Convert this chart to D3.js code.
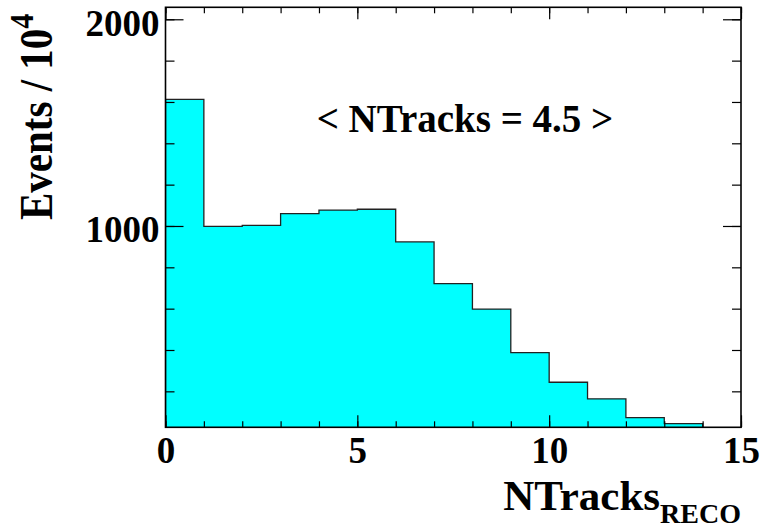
<!DOCTYPE html>
<html>
<head>
<meta charset="utf-8">
<script src="https://cdn.jsdelivr.net/npm/d3@7"></script>
<style>
  body { margin: 0; background: #fff; }
  text { font-family: "Liberation Serif", "Times New Roman", serif; font-weight: bold; fill: #000; }
</style>
</head>
<body>
<svg id="chart" width="765" height="532"></svg>
<script>
// bin edges (lower edge of each unit-wide bin) and contents, in units of 10^4 events
const binLow = [0, 1, 2, 3, 4, 5, 6, 7, 8, 9, 10, 11, 12, 13, 14];
const counts = [1613, 998, 1003, 1060, 1077, 1081, 923, 721, 598, 387, 244, 164, 73, 44, 8];
const xMajor = [0, 5, 10, 15];
const yMajor = [1000, 2000];
const meanLabel = "< NTracks = 4.5 >";

const svg = d3.select("#chart");
const frame = { left: 165.5, right: 741, top: 7.3, bottom: 427.3 };

const x = d3.scaleLinear().domain([0, 15]).range([frame.left, frame.right]);
const y = d3.scaleLinear().domain([26, 2058]).range([frame.bottom, frame.top]);

// clip for the histogram
svg.append("clipPath").attr("id", "clip")
  .append("rect")
  .attr("x", frame.left).attr("y", frame.top)
  .attr("width", frame.right - frame.left)
  .attr("height", frame.bottom - frame.top);

// histogram as a step outline
const yb = y.domain()[0];
let pts = [[x(0), y(yb)]];
binLow.forEach((b, i) => {
  pts.push([x(b), y(counts[i])]);
  pts.push([x(b + 1), y(counts[i])]);
});
pts.push([x(15), y(yb)]);

svg.append("path")
  .attr("clip-path", "url(#clip)")
  .attr("d", d3.line()(pts))
  .attr("fill", "#00ffff")
  .attr("stroke", "#222")
  .attr("stroke-width", 1.3);

// ticks, ROOT style (inside, on all four sides)
const xMinor = d3.range(0, 16);
const yMinor = d3.range(200, 2001, 200);

const tickGroup = (axis, tx, ty) =>
  svg.append("g").attr("transform", `translate(${tx},${ty})`).call(axis);

tickGroup(d3.axisBottom(x).tickValues(xMinor).tickSize(-6).tickFormat(""), 0, frame.bottom);
tickGroup(d3.axisTop(x).tickValues(xMinor).tickSize(-6).tickFormat(""), 0, frame.top);
tickGroup(d3.axisLeft(y).tickValues(yMinor).tickSize(-9).tickFormat(""), frame.left, 0);
tickGroup(d3.axisRight(y).tickValues(yMinor).tickSize(-9).tickFormat(""), frame.right, 0);

const xAx = tickGroup(
  d3.axisBottom(x).tickValues(xMajor).tickSize(-12).tickPadding(9.5).tickFormat(d3.format("d")),
  0, frame.bottom);
tickGroup(d3.axisTop(x).tickValues(xMajor).tickSize(-12).tickFormat(""), 0, frame.top);
const yAx = tickGroup(
  d3.axisLeft(y).tickValues(yMajor).tickSize(-18).tickPadding(6).tickFormat(d3.format("d")),
  frame.left, 0);
tickGroup(d3.axisRight(y).tickValues(yMajor).tickSize(-18).tickFormat(""), frame.right, 0);

svg.selectAll(".domain").remove();
svg.selectAll(".tick line").attr("stroke", "#000").attr("stroke-width", 1.2);
svg.selectAll(".tick text").attr("font-size", 37).attr("font-family", null);
yAx.selectAll(".tick text").attr("dy", "0.43em");

// frame
svg.append("rect")
  .attr("x", frame.left).attr("y", frame.top)
  .attr("width", frame.right - frame.left)
  .attr("height", frame.bottom - frame.top)
  .attr("fill", "none")
  .attr("stroke", "#000")
  .attr("stroke-width", 1.6);

// mean annotation
svg.append("text")
  .attr("x", 465).attr("y", 131.5)
  .attr("text-anchor", "middle")
  .attr("font-size", 39)
  .text(meanLabel);

// x title with subscript
const xt = svg.append("text")
  .attr("x", frame.right).attr("y", 510)
  .attr("text-anchor", "end")
  .attr("font-size", 43);
xt.append("tspan").text("NTracks");
xt.append("tspan").attr("font-size", 28).attr("dy", 13.3).text("RECO");

// y title with superscript (glyphs a bit taller in the original)
const yt = svg.append("text")
  .attr("transform", "translate(51.7,220) rotate(-90) scale(1,1.15)")
  .attr("font-size", 41);
yt.append("tspan").text("Events / 10");
yt.append("tspan").attr("font-size", 30).attr("dy", -16).text("4");
</script>
</body>
</html>
